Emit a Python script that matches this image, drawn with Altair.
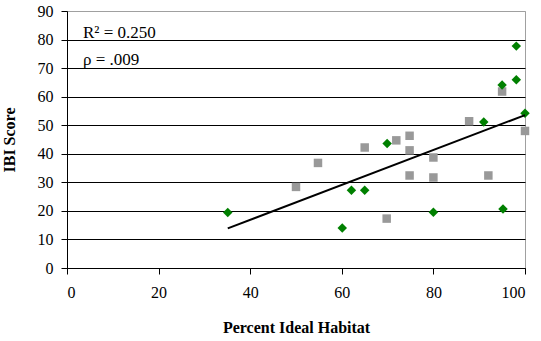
import altair as alt
import pandas as pd

# Green diamonds (series 1)
green_x = [35.1, 60.1, 62.1, 65.0, 69.9, 80.0, 91.0, 95.0, 95.2, 98.1, 98.1, 100.0]
green_y = [19.4, 14.0, 27.2, 27.2, 43.6, 19.5, 51.1, 64.1, 20.7, 65.9, 77.7, 54.2]
# Gray squares (series 2)
gray_x = [50.0, 54.8, 65.0, 69.8, 71.9, 74.8, 74.8, 74.8, 80.0, 80.0, 87.8, 92.0, 95.0, 100.0]
gray_y = [28.4, 36.8, 42.2, 17.3, 44.7, 46.3, 41.2, 32.4, 38.7, 31.7, 51.4, 32.4, 61.8, 48.0]

x_ticks = [0, 20, 40, 60, 80, 100]
y_ticks = [0, 10, 20, 30, 40, 50, 60, 70, 80, 90]
annotations = ["R\u00b2 = 0.250", "\u03c1 = .009"]

df = pd.DataFrame({
    "x": green_x + gray_x,
    "y": green_y + gray_y,
    "series": ["green"] * len(green_x) + ["gray"] * len(gray_x),
})
ann_df = pd.DataFrame({"label": annotations})

FONT = "Liberation Serif"

xs = alt.Scale(domain=[0, 100], nice=False, zero=True)
ys = alt.Scale(domain=[0, 90], nice=False)

x_axis = alt.Axis(values=x_ticks, title="Percent Ideal Habitat", grid=False,
                  domainColor="black", tickColor="black", tickSize=6,
                  labelPadding=10, titlePadding=19,
                  labelFont=FONT, titleFont=FONT, labelFontSize=16, titleFontSize=16,
                  titleFontWeight="bold", labelColor="black", titleColor="black")
y_axis = alt.Axis(values=y_ticks, title="IBI Score", grid=True,
                  gridColor=alt.condition("datum.value == 90", alt.value("#a0a0a0"), alt.value("black")),
                  gridWidth=1, domainColor="black", tickColor="black", tickSize=6,
                  labelPadding=8, titlePadding=20,
                  labelFont=FONT, titleFont=FONT, labelFontSize=16, titleFontSize=16,
                  titleFontWeight="bold", labelColor="black", titleColor="black")

X = alt.X("x:Q", scale=xs, axis=x_axis)
Y = alt.Y("y:Q", scale=ys, axis=y_axis)

base = alt.Chart(df)

green = base.transform_filter("datum.series == 'green'").mark_point(
    shape="diamond", filled=True, color="#008000", size=90, opacity=1
).encode(x=X, y=Y)

gray = base.transform_filter("datum.series == 'gray'").mark_point(
    shape="square", filled=True, color="#999999", size=72, opacity=1
).encode(x=X, y=Y)

trend = base.transform_regression("x", "y").mark_line(color="black", strokeWidth=2).encode(
    x=X, y=Y
)

ann1 = alt.Chart(ann_df).transform_filter(
    alt.datum.label == annotations[0]
).mark_text(
    align="left", baseline="alphabetic", font=FONT, fontSize=17, color="black"
).encode(x=alt.value(16), y=alt.value(27), text="label:N")
ann2 = alt.Chart(ann_df).transform_filter(
    alt.datum.label == annotations[1]
).mark_text(
    align="left", baseline="alphabetic", font=FONT, fontSize=17, color="black"
).encode(x=alt.value(16), y=alt.value(54), text="label:N")

chart = alt.layer(gray, green, trend, ann1, ann2).properties(
    width=458, height=257,
    background="white",
    autosize=alt.AutoSizeParams(type="none"),
    padding={"left": 67, "top": 11, "right": 16, "bottom": 73},
).configure_view(stroke="#a0a0a0", strokeWidth=1)

chart.save("out.html", embed_options={"renderer": "svg", "actions": False})
